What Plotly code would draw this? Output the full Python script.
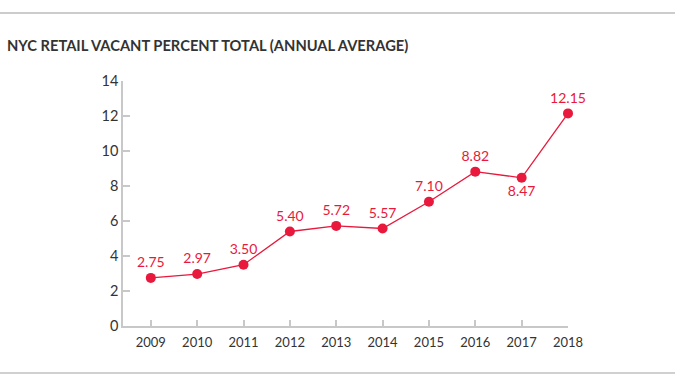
import plotly.graph_objects as go

years = [2009, 2010, 2011, 2012, 2013, 2014, 2015, 2016, 2017, 2018]
vacancy = [2.75, 2.97, 3.50, 5.40, 5.72, 5.57, 7.10, 8.82, 8.47, 12.15]
label_text = ["2.75", "2.97", "3.50", "5.40", "5.72", "5.57", "7.10", "8.82", "8.47", "12.15"]
label_pos = ["top center"] * 8 + ["bottom center", "top center"]
y_ticks = [0, 2, 4, 6, 8, 10, 12, 14]
title = "NYC RETAIL VACANT PERCENT TOTAL (ANNUAL AVERAGE)"

RED = "#e8193c"
W, H = 675, 387
L, R, T, B = 123, 107, 81, 61
pw, ph = W - L - R, H - T - B

def px_x(x):
    return (x - L) / pw

def px_y(y):
    return (H - B - y) / ph

fig = go.Figure()
fig.add_trace(go.Scatter(
    x=years, y=vacancy, mode="lines+markers+text",
    line=dict(color=RED, width=1.3),
    marker=dict(color=RED, size=10),
    text=label_text, textposition=label_pos,
    textfont=dict(family="Lato", size=14, color=RED),
    cliponaxis=False, showlegend=False,
))

fig.update_layout(
    width=W, height=H,
    margin=dict(l=L, r=R, t=T, b=B),
    paper_bgcolor="white", plot_bgcolor="white",
    font=dict(family="Lato", color="#333333"),
    xaxis=dict(
        range=[2008.4, 2018], tickvals=years, ticktext=[str(y) for y in years],
        showgrid=False, zeroline=False, showline=True, linecolor="#c8c8c8", linewidth=1.5,
        ticks="inside", ticklen=6, tickcolor="#c8c8c8", tickwidth=1.5,
        tickfont=dict(size=13, color="#333333"), ticklabelstandoff=4,
    ),
    yaxis=dict(
        range=[0, 14], tickvals=y_ticks,
        showgrid=False, zeroline=False, showline=True, linecolor="#c8c8c8", linewidth=1.5,
        ticks="inside", ticklen=7, tickcolor="#c8c8c8", tickwidth=1.5,
        tickfont=dict(size=14.5, color="#333333"),
    ),
    shapes=[
        dict(type="line", xref="paper", yref="paper", x0=px_x(0), x1=px_x(W),
             y0=px_y(13), y1=px_y(13), line=dict(color="#999999", width=1.2)),
        dict(type="line", xref="paper", yref="paper", x0=px_x(0), x1=px_x(W),
             y0=px_y(373), y1=px_y(373), line=dict(color="#d0d0d0", width=2)),
    ],
    annotations=[
        dict(text="<b>" + title + "</b>", xref="paper", yref="paper",
             x=px_x(5), y=px_y(45), xanchor="left", yanchor="middle",
             showarrow=False, font=dict(family="Lato", size=14.7, color="#333333")),
    ],
)

fig.write_html("out.html", config={"displayModeBar": False},
               post_script="document.body.style.margin='0';")
